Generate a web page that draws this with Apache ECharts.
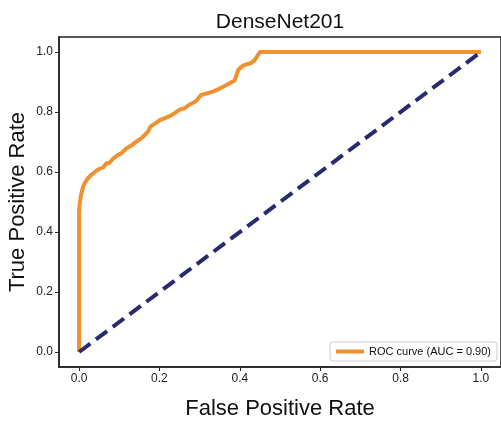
<!DOCTYPE html>
<html>
<head>
<meta charset="utf-8">
<script src="https://cdn.jsdelivr.net/npm/echarts@6/dist/echarts.min.js"></script>
<style>
  html, body { margin: 0; padding: 0; background: #fff; }
  #chart { width: 501px; height: 423px; }
</style>
</head>
<body>
<div id="chart"></div>
<script>
// ROC curve points
var rocFpr = [0, 0, 0.002, 0.005, 0.01, 0.015, 0.022, 0.03, 0.04, 0.05, 0.06, 0.068, 0.075, 0.085, 0.097, 0.105,
  0.118, 0.13, 0.142, 0.155, 0.171, 0.178, 0.19, 0.2, 0.212, 0.225, 0.24, 0.25, 0.262, 0.275, 0.29, 0.304,
  0.318, 0.333, 0.35, 0.367, 0.378, 0.387, 0.396, 0.405, 0.412, 0.42, 0.429, 0.437, 0.45, 1.0]
var rocTpr = [0, 0.47, 0.50, 0.525, 0.551, 0.565, 0.579, 0.59, 0.601, 0.61, 0.615, 0.629, 0.63, 0.645, 0.657, 0.662,
  0.679, 0.688, 0.701, 0.712, 0.734, 0.752, 0.762, 0.772, 0.779, 0.786, 0.798, 0.808, 0.812, 0.825, 0.835, 0.857,
  0.862, 0.868, 0.878, 0.89, 0.898, 0.905, 0.94, 0.952, 0.957, 0.96, 0.964, 0.973, 1.0, 1.0]
// chance line
var chanceX = [0, 1]
var chanceY = [0, 1]
var tickValues = [0, 0.2, 0.4, 0.6, 0.8, 1.0]
var rocName = 'ROC curve (AUC = 0.90)'

var chart = echarts.init(document.getElementById('chart'))

function pairs(xs, ys) {
  return xs.map(function (x, i) { return [x, ys[i]] })
}

var axisCommon = {
  type: 'value',
  min: -0.05,
  max: 1.05,
  nameLocation: 'middle',
  nameMoveOverlap: false,
  nameTextStyle: { fontFamily: 'Liberation Sans', fontSize: 22, color: '#111' },
  axisLine: { show: true, onZero: false, lineStyle: { color: '#222', width: 1.5 } },
  axisTick: { show: true, length: 4, customValues: tickValues, lineStyle: { color: '#222', width: 1 } },
  axisLabel: {
    customValues: tickValues,
    margin: 6,
    fontFamily: 'Liberation Sans',
    fontSize: 12,
    color: '#222',
    formatter: function (v) { return v.toFixed(1) }
  },
  splitLine: { show: false }
}

chart.setOption({
  animation: false,
  backgroundColor: '#fff',
  title: {
    text: 'DenseNet201',
    left: 275,
    textAlign: 'center',
    top: 7,
    textStyle: { fontFamily: 'Liberation Sans', fontSize: 21, fontWeight: 'normal', color: '#111' }
  },
  grid: {
    left: 59,
    right: 0,
    top: 37,
    bottom: 56,
    outerBoundsMode: 'none',
    containLabel: false,
    show: true,
    borderColor: '#222',
    borderWidth: 1.5,
    backgroundColor: '#fff'
  },
  legend: {
    data: [rocName],
    right: 4,
    bottom: 62,
    orient: 'vertical',
    padding: [4, 6],
    itemWidth: 28,
    itemHeight: 4,
    itemGap: 0,
    icon: 'rect',
    borderColor: '#ccc',
    borderWidth: 1,
    borderRadius: 3,
    backgroundColor: '#fff',
    textStyle: { fontFamily: 'Liberation Sans', fontSize: 11, color: '#111' }
  },
  xAxis: Object.assign({}, axisCommon, {
    name: 'False Positive Rate',
    nameGap: 31
  }),
  yAxis: Object.assign({}, axisCommon, {
    name: 'True Positive Rate',
    nameGap: 30
  }),
  series: [
    {
      name: rocName,
      type: 'line',
      data: pairs(rocFpr, rocTpr),
      showSymbol: false,
      symbol: 'none',
      itemStyle: { color: '#f0902e' },
      lineStyle: { color: '#f0902e', width: 4 }
    },
    {
      name: 'chance',
      type: 'line',
      data: pairs(chanceX, chanceY),
      showSymbol: false,
      symbol: 'none',
      itemStyle: { color: '#28296f' },
      lineStyle: { color: '#28296f', width: 4, type: [14, 7] }
    }
  ]
})
</script>
</body>
</html>
